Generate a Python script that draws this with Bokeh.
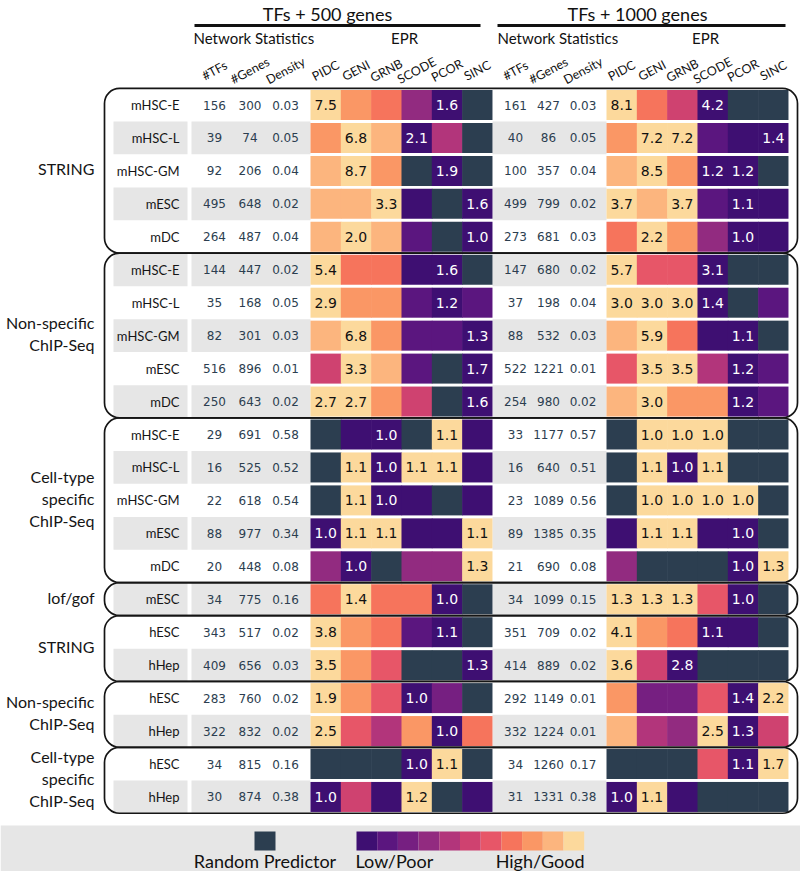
import numpy as np
from bokeh.plotting import figure
from bokeh.models import Range1d, BoxAnnotation, ColumnDataSource
from bokeh.core.properties import value
from bokeh.embed import file_html
from bokeh.resources import INLINE

# ---------------- data ----------------
methods = ["PIDC", "GENI", "GRNB", "SCODE", "PCOR", "SINC"]
stat_labels = ["#TFs", "#Genes", "Density"]
group_names = ["STRING", "Non-specific\nChIP-Seq", "Cell-type\nspecific\nChIP-Seq", "lof/gof",
               "STRING", "Non-specific\nChIP-Seq", "Cell-type\nspecific\nChIP-Seq"]
group_sizes = [5, 5, 5, 1, 2, 2, 2]
datasets = (["mHSC-E", "mHSC-L", "mHSC-GM", "mESC", "mDC"] * 3 + ["mESC"]
            + ["hESC", "hHep"] * 3)

tfs_500 = [156, 39, 92, 495, 264, 144, 35, 82, 516, 250, 29, 16, 22, 88, 20, 34,
           343, 409, 283, 322, 34, 30]
genes_500 = [300, 74, 206, 648, 487, 447, 168, 301, 896, 643, 691, 525, 618, 977, 448, 775,
             517, 656, 760, 832, 815, 874]
density_500 = [0.03, 0.05, 0.04, 0.02, 0.04, 0.02, 0.05, 0.03, 0.01, 0.02, 0.58, 0.52, 0.54,
               0.34, 0.08, 0.16, 0.02, 0.03, 0.02, 0.02, 0.16, 0.38]

tfs_1000 = [161, 40, 100, 499, 273, 147, 37, 88, 522, 254, 33, 16, 23, 89, 21, 34,
            351, 414, 292, 332, 34, 31]
genes_1000 = [427, 86, 357, 799, 681, 680, 198, 532, 1221, 980, 1177, 640, 1089, 1385, 690,
              1099, 709, 889, 1149, 1224, 1260, 1331]
density_1000 = [0.03, 0.05, 0.04, 0.02, 0.03, 0.02, 0.04, 0.03, 0.01, 0.02, 0.57, 0.51, 0.56,
                0.35, 0.08, 0.15, 0.02, 0.02, 0.01, 0.01, 0.17, 0.38]

R = -1      # random predictor
_ = None    # no value printed

# colour level (0 = low/poor ... 10 = high/good, R = random predictor)
level_500 = [
    [10, 8, 7, 3, 0, R],
    [8, 10, 9, 0, 4, R],
    [9, 10, 8, R, 0, R],
    [9, 9, 10, 0, R, 0],
    [9, 10, 9, 1, R, 0],
    [10, 7, 7, 0, 0, R],
    [10, 8, 8, 1, 0, 1],
    [9, 10, 8, 1, 1, 0],
    [5, 10, 9, 1, R, 0],
    [10, 10, 8, 5, R, 0],
    [R, 0, 0, R, 10, 0],
    [R, 10, 0, 10, 10, 0],
    [R, 10, 0, 0, R, 0],
    [0, 10, 10, 0, 0, 10],
    [3, 0, R, 3, 3, 10],
    [7, 10, 7, 7, 0, R],
    [10, 8, 7, 1, 0, R],
    [10, 8, 6, R, R, 0],
    [10, 8, 6, 0, 2, R],
    [10, 6, 4, 8, 0, 7],
    [R, R, R, 0, 10, R],
    [0, 5, 0, 10, R, 0],
]
label_500 = [
    [7.5, _, _, _, 1.6, _],
    [_, 6.8, _, 2.1, _, _],
    [_, 8.7, _, _, 1.9, _],
    [_, _, 3.3, _, _, 1.6],
    [_, 2.0, _, _, _, 1.0],
    [5.4, _, _, _, 1.6, _],
    [2.9, _, _, _, 1.2, _],
    [_, 6.8, _, _, _, 1.3],
    [_, 3.3, _, _, _, 1.7],
    [2.7, 2.7, _, _, _, 1.6],
    [_, _, 1.0, _, 1.1, _],
    [_, 1.1, 1.0, 1.1, 1.1, _],
    [_, 1.1, 1.0, _, _, _],
    [1.0, 1.1, 1.1, _, _, 1.1],
    [_, 1.0, _, _, _, 1.3],
    [_, 1.4, _, _, 1.0, _],
    [3.8, _, _, _, 1.1, _],
    [3.5, _, _, _, _, 1.3],
    [1.9, _, _, 1.0, _, _],
    [2.5, _, _, _, 1.0, _],
    [_, _, _, 1.0, 1.1, _],
    [1.0, _, _, 1.2, _, _],
]

level_1000 = [
    [10, 7, 5, 0, R, R],
    [8, 10, 10, 1, 0, 0],
    [9, 10, 8, 0, 0, R],
    [10, 9, 10, 1, 0, 0],
    [7, 10, 8, 3, 0, 0],
    [10, 6, 6, 0, R, R],
    [10, 10, 10, 0, R, 1],
    [9, 10, 7, 0, 0, R],
    [6, 10, 10, 4, 0, 1],
    [9, 10, 8, 8, 0, 1],
    [R, 10, 10, 10, R, R],
    [R, 10, 0, 10, R, R],
    [R, 10, 10, 10, 10, R],
    [0, 10, 10, 0, 0, R],
    [3, R, R, R, 0, 10],
    [10, 10, 10, 6, 0, R],
    [10, 8, 7, 0, 0, R],
    [10, 5, 0, R, R, R],
    [8, 2, 2, 6, 0, 10],
    [9, 4, 3, 10, 0, 5],
    [R, R, R, 6, 0, 10],
    [0, 10, 0, R, R, R],
]
label_1000 = [
    [8.1, _, _, 4.2, _, _],
    [_, 7.2, 7.2, _, _, 1.4],
    [_, 8.5, _, 1.2, 1.2, _],
    [3.7, _, 3.7, _, 1.1, _],
    [_, 2.2, _, _, 1.0, _],
    [5.7, _, _, 3.1, _, _],
    [3.0, 3.0, 3.0, 1.4, _, _],
    [_, 5.9, _, _, 1.1, _],
    [_, 3.5, 3.5, _, 1.2, _],
    [_, 3.0, _, _, 1.2, _],
    [_, 1.0, 1.0, 1.0, _, _],
    [_, 1.1, 1.0, 1.1, _, _],
    [_, 1.0, 1.0, 1.0, 1.0, _],
    [_, 1.1, 1.1, _, 1.0, _],
    [_, _, _, _, 1.0, 1.3],
    [1.3, 1.3, 1.3, _, 1.0, _],
    [4.1, _, _, 1.1, _, _],
    [3.6, _, 2.8, _, _, _],
    [_, _, _, _, 1.4, 2.2],
    [_, _, _, 2.5, 1.3, _],
    [_, _, _, _, 1.1, 1.7],
    [1.0, 1.1, _, _, _, _],
]

legend_labels = ["Random Predictor", "Low/Poor", "High/Good"]

# ---------------- styles ----------------
PALETTE = ["#3e0f72", "#5b167f", "#761f81", "#922b80", "#b2357b", "#cf4270",
           "#e75668", "#f6745c", "#fa9765", "#fcb57e", "#fcd99c"]
RANDOM_COLOR = "#2c3e50"
STRIPE = "#e6e6e6"
NUM_FONT = value("DejaVu Sans")
LBL_FONT = value("Lato")

p = figure(width=800, height=871, x_range=Range1d(0, 800), y_range=Range1d(871, 0),
           toolbar_location=None, output_backend="svg", min_border=0,
           x_axis_location=None, y_axis_location=None)
p.grid.visible = False
p.outline_line_color = None
p.background_fill_color = "white"

n = len(datasets)
ROW0, ROWH = 104.5, 32.95
ys = [ROW0 + ROWH * i for i in range(n)]

# ---------------- row stripes ----------------
stripe_y = [y for i, y in enumerate(ys) if i % 2 == 1]
for (l, r) in [(113, 187), (191, 310), (492, 606)]:
    p.quad(left=l, right=r, top=[y - 16.4 for y in stripe_y],
           bottom=[y + 16.4 for y in stripe_y], fill_color=STRIPE, line_color=None)

# ---------------- heatmap blocks ----------------
CW = 30.33


def draw_block(x0, levels, labels):
    L, Rt, T, B, C = [], [], [], [], []
    tx, ty, tt, tc = [], [], [], []
    for i, row in enumerate(levels):
        for j, lev in enumerate(row):
            left = x0 + j * CW
            L.append(left)
            Rt.append(left + CW + (0.6 if j < 5 else 0))
            T.append(ys[i] - 15.0)
            B.append(ys[i] + 15.0)
            C.append(RANDOM_COLOR if lev < 0 else PALETTE[lev])
            lab = labels[i][j]
            if lab is not None:
                tx.append(left + CW / 2)
                ty.append(ys[i])
                tt.append("%.1f" % lab)
                tc.append("white" if lev < 5 else "#111111")
    p.quad(source=ColumnDataSource(dict(left=L, right=Rt, top=T, bottom=B, color=C)),
           left="left", right="right", top="top", bottom="bottom",
           fill_color="color", line_color=None)
    p.text(source=ColumnDataSource(dict(x=tx, y=ty, text=tt, color=tc)),
           x="x", y="y", text="text", text_color="color", text_align="center",
           text_baseline="middle", text_font=NUM_FONT, text_font_size="14px")


draw_block(310, level_500, label_500)
draw_block(606, level_1000, label_1000)

# ---------------- network statistics ----------------


def draw_stats(xs, tfs, genes, dens):
    X, Y, T = [], [], []
    for i in range(n):
        for x, t in zip(xs, [str(tfs[i]), str(genes[i]), "%.2f" % dens[i]]):
            X.append(x)
            Y.append(ys[i])
            T.append(t)
    p.text(x=X, y=Y, text=T, text_align="center", text_baseline="middle",
           text_font=NUM_FONT, text_font_size="12px", text_color=RANDOM_COLOR)


draw_stats([214, 249.5, 285], tfs_500, genes_500, density_500)
draw_stats([515, 548, 582.5], tfs_1000, genes_1000, density_1000)

# ---------------- row labels ----------------
p.text(x=[179] * n, y=ys, text=datasets, text_align="right", text_baseline="middle",
       text_font=LBL_FONT, text_font_size="13px", text_color="#151515")

# ---------------- group labels & boxes ----------------
gx, gy = [], []
start = 0
for g, size in enumerate(group_sizes):
    first, last = ys[start], ys[start + size - 1]
    gy.append((first + last) / 2 - 2)
    gx.append(94)
    p.add_layout(BoxAnnotation(left=104, right=797, top=first - 16.6, bottom=last + 16.3,
                               fill_alpha=0, line_color="#151515", line_alpha=1.0,
                               line_width=1.7, border_radius=15, level="overlay"))
    start += size
p.text(x=gx, y=gy, text=group_names, text_align="right", text_baseline="middle",
       text_font=LBL_FONT, text_font_size="16px", text_color="#151515",
       text_line_height=1.15)

# ---------------- header ----------------
p.text(x=[327, 637], y=[13, 13], text=["TFs + 500 genes", "TFs + 1000 genes"],
       text_align="center", text_baseline="middle", text_font=LBL_FONT,
       text_font_size="18px", text_color="#111111")
p.segment(x0=[194, 497], y0=[25, 25], x1=[480, 785], y1=[25, 25],
          line_color="#111111", line_width=3)
p.text(x=[193, 497], y=[37, 37], text=["Network Statistics", "Network Statistics"],
       text_align="left", text_baseline="middle", text_font=LBL_FONT,
       text_font_size="15px", text_color="#111111")
p.text(x=[404, 705], y=[37, 37], text=["EPR", "EPR"],
       text_align="center", text_baseline="middle", text_font=LBL_FONT,
       text_font_size="15px", text_color="#111111")

hx, ht = [], []
for base_stats, base_cells in [([214, 249.5, 285], 310), ([515, 548, 582.5], 606)]:
    hx += base_stats
    ht += stat_labels
    hx += [base_cells + CW * (j + 0.5) for j in range(len(methods))]
    ht += methods
p.text(x=hx, y=[70] * len(hx), text=ht, angle=np.deg2rad(28), text_align="center",
       text_baseline="middle", text_font=LBL_FONT, text_font_size="12.5px",
       text_color="#111111")

# ---------------- legend ----------------
p.quad(left=[0], right=[800], top=[825], bottom=[871], fill_color=STRIPE, line_color=None)
p.quad(left=[254], right=[275], top=[831], bottom=[850], fill_color=RANDOM_COLOR,
       line_color=None)
SW = 20.7
p.quad(left=[356 + SW * k for k in range(len(PALETTE))],
       right=[356 + SW * (k + 1) for k in range(len(PALETTE))],
       top=[831] * len(PALETTE), bottom=[850] * len(PALETTE),
       fill_color=PALETTE, line_color=None)
p.text(x=[264.5], y=[860], text=[legend_labels[0]], text_align="center",
       text_baseline="middle", text_font=LBL_FONT, text_font_size="18px",
       text_color="#111111")
p.text(x=[355], y=[860], text=[legend_labels[1]], text_align="left",
       text_baseline="middle", text_font=LBL_FONT, text_font_size="18px",
       text_color="#111111")
p.text(x=[584], y=[860], text=[legend_labels[2]], text_align="right",
       text_baseline="middle", text_font=LBL_FONT, text_font_size="18px",
       text_color="#111111")

open("out.html", "w").write(file_html(p, INLINE))
